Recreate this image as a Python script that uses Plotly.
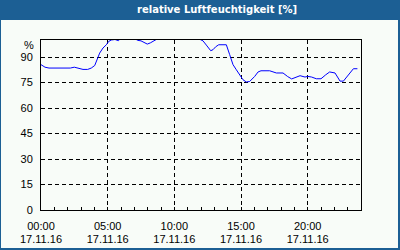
import plotly.graph_objects as go

# ---- data (hours since 00:00 on 17.11.16, relative humidity in %) ----
hours = [0, 0.3, 0.6, 1.0, 1.4, 1.8, 2.2, 2.5, 2.8, 3.15, 3.5, 3.77, 4.03, 4.22, 4.4,
         4.65, 4.9, 5.08, 5.28, 5.55, 5.8, 6.0, 6.5, 7.0, 7.25, 7.5, 7.75, 7.97, 8.2,
         8.5, 8.8, 9.5, 10.5, 11.5, 11.95, 12.15, 12.45, 12.73, 12.9, 13.1, 13.33,
         13.9, 14.15, 14.4, 14.65, 14.9, 15.15, 15.4, 15.65, 16.03, 16.28, 16.5,
         17.15, 17.65, 18.15, 18.5, 18.8, 19.43, 19.8, 20.0, 20.3, 20.65, 21.0,
         21.35, 21.65, 22.05, 22.43, 22.68, 23.05, 23.43, 23.73]
humidity = [85.5, 84.0, 83.5, 83.5, 83.9, 83.9, 83.5, 84.0, 83.5, 82.7, 82.7, 83.5,
            85.0, 88.4, 92.3, 95.3, 97.2, 99.2, 100.0, 100.3, 99.6, 101.0, 102.0,
            101.0, 99.8, 99.5, 98.5, 97.6, 98.3, 99.8, 101.0, 103.0, 104.0, 102.0,
            100.5, 99.5, 96.5, 93.7, 94.3, 96.0, 97.2, 97.2, 91.4, 85.5, 82.5, 79.6,
            76.6, 75.3, 75.6, 78.6, 81.2, 81.9, 81.9, 80.6, 80.6, 78.5, 77.1, 79.0,
            78.2, 78.6, 78.2, 77.2, 77.2, 79.5, 81.2, 80.6, 75.8, 75.8, 79.6, 83.1,
            83.1]

x_tickvals = [0, 5, 10, 15, 20]
x_time_text = ["00:00", "05:00", "10:00", "15:00", "20:00"]
x_date_text = ["17.11.16", "17.11.16", "17.11.16", "17.11.16", "17.11.16"]
y_tickvals = [0, 15, 30, 45, 60, 75, 90]
y_ticktext = ["0", "15", "30", "45", "60", "75", "90"]
title_text = "relative Luftfeuchtigkeit [%]"
unit_text = "%"

# ---- layout geometry (pixels) ----
W, H = 400, 250
L, R, T, B = 41, 39, 40, 40
PW, PH = W - L - R, H - T - B


def px(x):
    return (x - L) / PW


def py(y):
    return (H - B - y) / PH


BLUE = "#1c5f94"
BG = "#f8fcf8"
FONT = dict(family="Liberation Sans, Arial, sans-serif", size=11, color="black")

fig = go.Figure()
fig.add_trace(go.Scatter(x=hours, y=humidity, mode="lines",
                         line=dict(color="#0000ff", width=1), hoverinfo="skip"))
# invisible helper trace so the second (date) label axis is rendered
fig.add_trace(go.Scatter(x=[hours[0]], y=[humidity[0]], xaxis="x2", mode="markers",
                         marker=dict(opacity=0), hoverinfo="skip"))

grid = dict(showgrid=True, gridcolor="black", gridwidth=1, griddash="4px,3px")

fig.update_layout(
    width=W, height=H,
    margin=dict(l=L, r=R, t=T, b=B, pad=0),
    paper_bgcolor=BG, plot_bgcolor=BG,
    showlegend=False,
    font=FONT,
    xaxis=dict(range=[0, 24], tickvals=x_tickvals, ticktext=x_time_text,
               ticks="inside", ticklen=3, tickcolor="black", tickwidth=1,
               minor=dict(dtick=1, ticks="inside", ticklen=3, tickcolor="black",
                          showgrid=False),
               showline=True, linecolor="black", linewidth=1, mirror=True,
               zeroline=False, tickfont=FONT, ticklabelstandoff=6,
               automargin=False, **grid),
    xaxis2=dict(range=[0, 24], tickvals=x_tickvals, ticktext=x_date_text,
                overlaying="x", anchor="y", side="bottom", ticks="",
                showline=False, showgrid=False, zeroline=False, tickfont=FONT,
                ticklabelstandoff=21, automargin=False),
    yaxis=dict(range=[0, 100], tickvals=y_tickvals, ticktext=y_ticktext,
               ticks="", showline=True, linecolor="black", linewidth=1,
               mirror=True, zeroline=False, tickfont=FONT,
               ticklabelstandoff=5, automargin=False, **grid),
    shapes=[
        # title bar
        dict(type="rect", xref="paper", yref="paper", x0=px(0), x1=px(W),
             y0=py(20), y1=py(0), fillcolor=BLUE, line_width=0, layer="below"),
        # frame: left, right, bottom
        dict(type="rect", xref="paper", yref="paper", x0=px(0), x1=px(1),
             y0=py(250), y1=py(0), fillcolor=BLUE, line_width=0),
        dict(type="rect", xref="paper", yref="paper", x0=px(398), x1=px(400),
             y0=py(250), y1=py(0), fillcolor=BLUE, line_width=0),
        dict(type="rect", xref="paper", yref="paper", x0=px(0), x1=px(400),
             y0=py(250), y1=py(248), fillcolor=BLUE, line_width=0),
    ],
    annotations=[
        dict(text=f"<b>{title_text}</b>", xref="paper", yref="paper",
             x=px(217), y=py(10), xanchor="center", yanchor="middle",
             showarrow=False,
             font=dict(family="DejaVu Sans, sans-serif", size=10, color="white")),
        dict(text=unit_text, xref="paper", yref="paper", x=px(36), y=py(45),
             xanchor="right", yanchor="middle", showarrow=False, font=FONT),
    ],
)

fig.write_html("out.html")
